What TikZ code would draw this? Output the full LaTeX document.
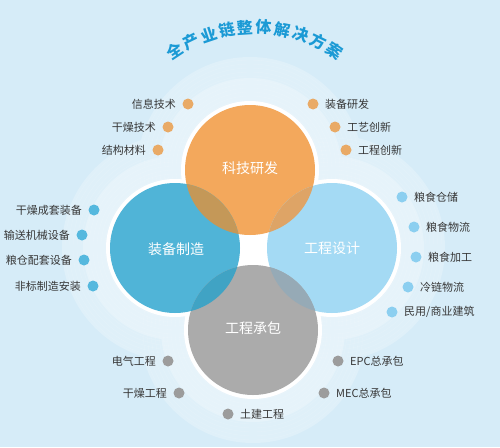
\documentclass[tikz,border=0pt]{standalone}
\usepackage{fontspec}
\setmainfont{Noto Sans CJK SC}
\newfontfamily\cjk{Noto Sans CJK SC}
\definecolor{bgC}{RGB}{214,236,248}
\definecolor{orC}{RGB}{243,168,92}
\definecolor{blC}{RGB}{80,180,215}
\definecolor{lbC}{RGB}{164,218,244}
\definecolor{grC}{RGB}{171,171,171}
\definecolor{obC}{RGB}{196,152,88}
\definecolor{olC}{RGB}{222,164,102}
\definecolor{bgrC}{RGB}{64,163,196}
\definecolor{lgC}{RGB}{150,170,182}
\definecolor{titleC}{RGB}{27,154,213}
\definecolor{labC}{RGB}{55,55,55}
\definecolor{dotO}{RGB}{233,170,102}
\definecolor{dotB}{RGB}{85,184,222}
\definecolor{dotL}{RGB}{140,207,240}
\definecolor{dotG}{RGB}{156,156,156}
\tikzset{
  dotmark/.style={circle, inner sep=0pt, minimum size=11pt},
  lab/.style={inner sep=0pt, text=labC, font=\cjk\fontsize{11}{11}\selectfont},
  labL/.style={lab, anchor=east},
  labR/.style={lab, anchor=west},
  circtext/.style={inner sep=0pt, text=white, font=\cjk\fontsize{14}{14}\selectfont},
  titlechar/.style={inner sep=0pt, text=titleC, font=\cjk\bfseries\fontsize{16}{16}\selectfont}
}
\begin{document}
\begin{tikzpicture}[x=1pt,y=-1pt]
\useasboundingbox (0,0) rectangle (500,447);
\fill[bgC] (0,0) rectangle (500,447);
\coordinate (O) at (250,170);
\coordinate (B) at (175,248);
\coordinate (L) at (332,248);
\coordinate (G) at (253,330);
% halos
\fill[white, opacity=0.22] (O) circle (113) (B) circle (113) (L) circle (113) (G) circle (113);
\fill[white, opacity=0.22] (O) circle (92) (B) circle (92) (L) circle (92) (G) circle (92);
\foreach \r in {70,74,...,112}{
  \draw[white, opacity=0.18, line width=0.3pt] (O) circle (\r) (B) circle (\r) (L) circle (\r) (G) circle (\r);
}
% white rings
\fill[white] (O) circle (69) (B) circle (69) (L) circle (69) (G) circle (69);
\fill[white] (235,230) rectangle (270,268);
% main circles
\fill[orC] (O) circle (65);
\fill[blC] (B) circle (65);
\fill[lbC] (L) circle (65);
\fill[grC] (G) circle (65);
% overlaps
\begin{scope}\clip (O) circle (65); \fill[obC] (B) circle (65); \fill[olC] (L) circle (65);\end{scope}
\begin{scope}\clip (G) circle (65); \fill[bgrC] (B) circle (65); \fill[lgC] (L) circle (65);\end{scope}
% circle texts
\node[circtext] (tO) at (250,168) {科技研发};
\node[circtext] (tB) at (176,249) {装备制造};
\node[circtext] (tL) at (332,248) {工程设计};
\node[circtext] (tG) at (253,328) {工程承包};
% orange items
\node[dotmark, fill=dotO] (o1) at (188,104) {};
\node[labL] (lo1) at (176,104) {信息技术};
\node[dotmark, fill=dotO] (o2) at (168,127) {};
\node[labL] (lo2) at (156,127) {干燥技术};
\node[dotmark, fill=dotO] (o3) at (158,150) {};
\node[labL] (lo3) at (146,150) {结构材料};
\node[dotmark, fill=dotO] (o4) at (313,104) {};
\node[labR] (lo4) at (325,104) {装备研发};
\node[dotmark, fill=dotO] (o5) at (335,127) {};
\node[labR] (lo5) at (347,127) {工艺创新};
\node[dotmark, fill=dotO] (o6) at (346,150) {};
\node[labR] (lo6) at (358,150) {工程创新};
% blue items
\node[dotmark, fill=dotB] (b1) at (94,210) {};
\node[labL] (lb1) at (82,210) {干燥成套装备};
\node[dotmark, fill=dotB] (b2) at (82,235) {};
\node[labL] (lb2) at (70,235) {输送机械设备};
\node[dotmark, fill=dotB] (b3) at (84,260) {};
\node[labL] (lb3) at (72,260) {粮仓配套设备};
\node[dotmark, fill=dotB] (b4) at (93,286) {};
\node[labL] (lb4) at (81,286) {非标制造安装};
% light blue items
\node[dotmark, fill=dotL] (l1) at (402,197) {};
\node[labR] (ll1) at (414,197) {粮食仓储};
\node[dotmark, fill=dotL] (l2) at (414,227) {};
\node[labR] (ll2) at (426,227) {粮食物流};
\node[dotmark, fill=dotL] (l3) at (416,257) {};
\node[labR] (ll3) at (428,257) {粮食加工};
\node[dotmark, fill=dotL] (l4) at (408,287) {};
\node[labR] (ll4) at (420,287) {冷链物流};
\node[dotmark, fill=dotL] (l5) at (392,312) {};
\node[labR] (ll5) at (404,312) {民用/商业建筑};
% gray items
\node[dotmark, fill=dotG] (g1) at (168,361) {};
\node[labL] (lg1) at (156,361) {电气工程};
\node[dotmark, fill=dotG] (g2) at (179,393) {};
\node[labL] (lg2) at (167,393) {干燥工程};
\node[dotmark, fill=dotG] (g3) at (228,414) {};
\node[labR] (lg3) at (240,414) {土建工程};
\node[dotmark, fill=dotG] (g4) at (338,361) {};
\node[labR] (lg4) at (350,361) {EPC总承包};
\node[dotmark, fill=dotG] (g5) at (324,393) {};
\node[labR] (lg5) at (336,393) {MEC总承包};
% title on arc
\foreach \c [count=\i from 0] in {全,产,业,链,整,体,解,决,方,案}{
  \pgfmathsetmacro{\a}{123.5-\i*7.44}
  \node[titlechar, rotate=\a-90] (title\i) at ({255+145*cos(\a)},{172-145*sin(\a)}) {\c};
}
\end{tikzpicture}
\end{document}
